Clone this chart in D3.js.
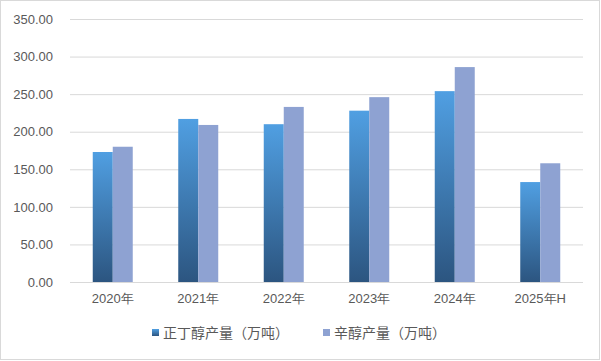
<!DOCTYPE html>
<html lang="zh">
<head>
<meta charset="UTF-8">
<title>正丁醇与辛醇产量</title>
<style>
  body { margin: 0; background: #fff; }
  svg { display: block; font-family: "Noto Sans CJK SC", "DejaVu Sans", sans-serif; }
  .tick text { fill: #595959; font-size: 13px; }
  .legend text { fill: #595959; font-size: 14px; }
</style>
</head>
<body>
<svg id="chart" width="601" height="361"></svg>
<script src="https://d3js.org/d3.v7.min.js"></script>
<script>
  // chart data
  const years = ["2020年", "2021年", "2022年", "2023年", "2024年", "2025年H"];
  const butanol = [173, 217, 210, 228, 254, 133];
  const octanol = [180, 209, 233, 246, 286, 158];
  const seriesNames = ["正丁醇产量（万吨）", "辛醇产量（万吨）"];
  const yTicks = [0, 50, 100, 150, 200, 250, 300, 350];

  const width = 601, height = 361;
  const margin = { top: 19, right: 18, bottom: 79, left: 70 };

  const svg = d3.select("#chart");

  // outer frame
  svg.append("rect")
    .attr("x", 0.5).attr("y", 0.5)
    .attr("width", width - 2).attr("height", height - 2)
    .attr("fill", "#fff").attr("stroke", "#d9d9d9");

  const defs = svg.append("defs");
  const grad = defs.append("linearGradient")
    .attr("id", "gradBlue")
    .attr("x1", 0).attr("y1", 0).attr("x2", 0).attr("y2", 1);
  grad.append("stop").attr("offset", "0%").attr("stop-color", "#509fe2");
  grad.append("stop").attr("offset", "100%").attr("stop-color", "#2c5580");

  const x = d3.scaleBand()
    .domain(years)
    .range([margin.left, width - margin.right]);

  const y = d3.scaleLinear()
    .domain([0, 350])
    .range([height - margin.bottom, margin.top]);

  // gridlines + y labels
  const yAxis = svg.append("g")
    .attr("transform", `translate(${margin.left},0)`)
    .call(d3.axisLeft(y).tickValues(yTicks).tickFormat(d3.format(".2f"))
      .tickSize(-(width - margin.left - margin.right)).tickPadding(17));
  yAxis.select(".domain").remove();
  yAxis.selectAll(".tick line").attr("stroke", "#d9d9d9");

  // x labels
  const xAxis = svg.append("g")
    .attr("transform", `translate(0,${height - margin.bottom})`)
    .call(d3.axisBottom(x).tickSize(0).tickPadding(12));
  xAxis.select(".domain").remove();

  const barW = 20;
  const rows = years.map((yr, i) => ({ yr, a: butanol[i], b: octanol[i] }));

  svg.append("g").selectAll("rect")
    .data(rows).join("rect")
    .attr("x", d => x(d.yr) + x.bandwidth() / 2 - barW)
    .attr("y", d => y(d.a))
    .attr("width", barW)
    .attr("height", d => y(0) - y(d.a))
    .attr("fill", "url(#gradBlue)");

  svg.append("g").selectAll("rect")
    .data(rows).join("rect")
    .attr("x", d => x(d.yr) + x.bandwidth() / 2)
    .attr("y", d => y(d.b))
    .attr("width", barW)
    .attr("height", d => y(0) - y(d.b))
    .attr("fill", "#8ea2d2");

  // legend
  const legend = svg.append("g").attr("class", "legend");
  const items = [
    { name: seriesNames[0], fill: "url(#gradBlue)", x: 152 },
    { name: seriesNames[1], fill: "#8ea2d2", x: 323 }
  ];
  const lg = legend.selectAll("g").data(items).join("g")
    .attr("transform", d => `translate(${d.x},333)`);
  lg.append("rect")
    .attr("x", 0).attr("y", -4)
    .attr("width", 7).attr("height", 7)
    .attr("fill", d => d.fill);
  lg.append("text")
    .attr("x", 11).attr("y", 0)
    .attr("dy", "0.35em")
    .text(d => d.name);
</script>
</body>
</html>
